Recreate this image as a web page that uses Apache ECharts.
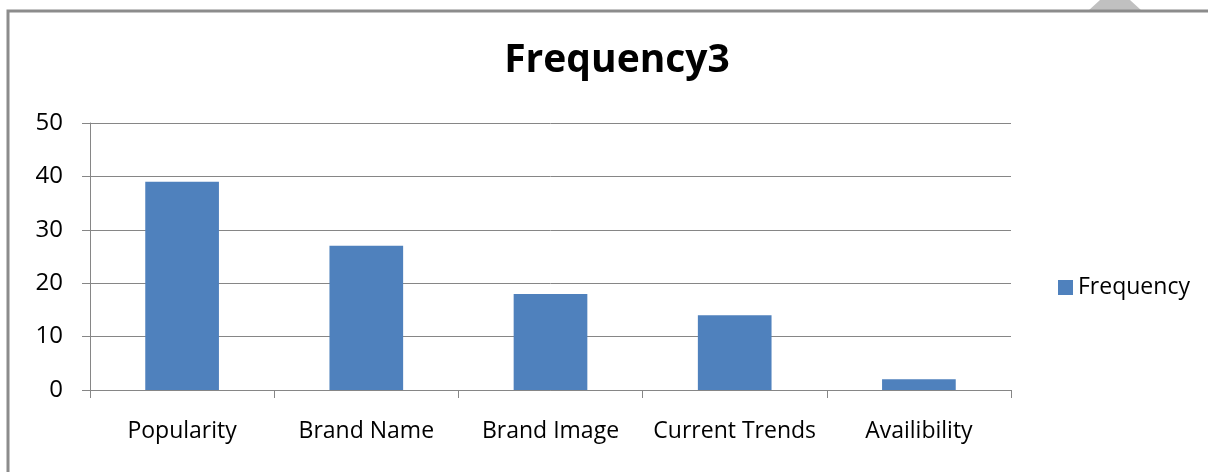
<!DOCTYPE html>
<html><head><meta charset="utf-8">
<script src="https://cdn.jsdelivr.net/npm/echarts@6/dist/echarts.min.js"></script>
<style>html,body{margin:0;padding:0;background:#fff;}#c{width:1208px;height:472px;}</style>
</head><body><div id="c"></div>
<script>
var categories = ['Popularity', 'Brand Name', 'Brand Image', 'Current Trends', 'Availibility'];
var frequency = [39, 27, 18, 14, 2];
var seriesName = 'Frequency';
var titleText = 'Frequency3';

var chart = echarts.init(document.getElementById('c'));
var font = '"Open Sans", Lato, sans-serif';
chart.setOption({
  animation: false,
  backgroundColor: '#fff',
  title: { text: titleText, left: 612, textAlign: 'center', top: 36,
    textStyle: { fontFamily: font, fontWeight: 'bold', fontSize: 39, color: '#000' } },
  legend: { data: [seriesName], left: 1053, top: 271, orient: 'vertical',
    icon: 'rect', itemWidth: 15, itemHeight: 15, itemGap: 7,
    textStyle: { fontFamily: font, fontSize: 23, color: '#000' } },
  grid: { left: 90, right: 197, top: 123, bottom: 82 },
  xAxis: { type: 'category', data: categories,
    axisLine: { lineStyle: { color: '#868686', width: 1 } },
    axisTick: { show: true, interval: 0, length: 8, lineStyle: { color: '#868686' } },
    axisLabel: { interval: 0, fontFamily: font, fontSize: 23, color: '#000', margin: 30 } },
  yAxis: { type: 'value', min: 0, max: 50, interval: 10,
    axisLine: { show: true, lineStyle: { color: '#868686', width: 1 } },
    axisTick: { show: true, length: 8, lineStyle: { color: '#868686' } },
    splitLine: { lineStyle: { color: '#868686', width: 1 } },
    axisLabel: { fontFamily: font, fontSize: 24, color: '#000', margin: 27 } },
  series: [{ name: seriesName, type: 'bar', data: frequency, barWidth: '40%',
    itemStyle: { color: '#4f81bd' } }],
  graphic: [
    { type: 'polygon', silent: true, shape: { points: [[1100,0],[1130,0],[1142,11],[1088,11]] }, style: { fill: '#c0c0c0' } },
    { type: 'polyline', silent: true, shape: { points: [[8,472],[8,11],[1208,11]] }, style: { stroke: '#8c8c8c', lineWidth: 3, fill: null } }
  ]
});
</script></body></html>
